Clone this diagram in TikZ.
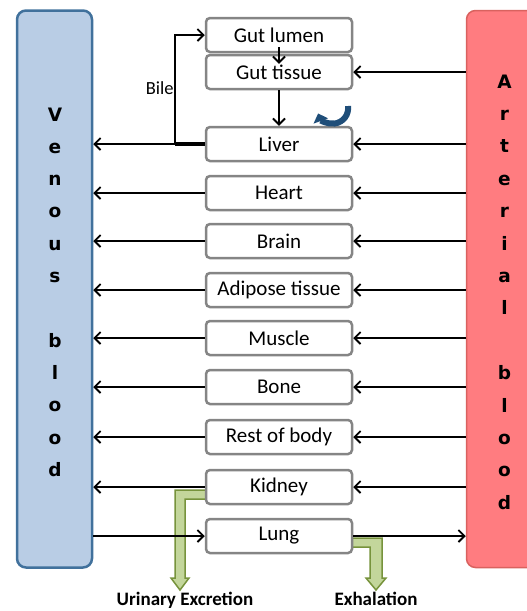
\documentclass[tikz,border=0pt]{standalone}
\usepackage{fontspec}
\setmainfont{Carlito}
\newfontfamily\poolfont{DejaVu Sans}
\usetikzlibrary{arrows.meta,positioning,calc}

\definecolor{venfill}{HTML}{B9CDE5}
\definecolor{venline}{HTML}{41719C}
\definecolor{artfill}{HTML}{FF7C80}
\definecolor{artline}{HTML}{D9625F}
\definecolor{boxgray}{HTML}{858585}
\definecolor{grfill}{HTML}{C3D69B}
\definecolor{grline}{HTML}{77933C}
\definecolor{arcblue}{HTML}{1F4E79}

\begin{document}
\begin{tikzpicture}[x=1pt,y=1pt,
    organ/.style={draw=boxgray,line width=2.5pt,rounded corners=4pt,fill=white,
      minimum width=146pt,minimum height=34pt,inner sep=0pt,font=\fontsize{21}{24}\selectfont},
    flow/.style={line width=1.8pt,-{Straight Barb[length=6pt,width=12pt]}},
    letter/.style={anchor=base,font=\poolfont\fontsize{18.5}{20}\selectfont\bfseries},
    excr/.style={fill=grfill,draw=grline,line width=1.5pt}]
    \clip (0,0) rectangle (527,-611);

    % blood pools
    \node[draw=venline,fill=venfill,line width=2.5pt,rounded corners=9pt,
      minimum width=75pt,minimum height=557pt] at (54.5,-289) (ven) {};
    \node[draw=artline,fill=artfill,line width=1.5pt,rounded corners=9pt,
      minimum width=75pt,minimum height=557pt] at (504,-289) (art) {};
    \foreach \c/\k in {V/0,e/1,n/2,o/3,u/4,s/5,b/7,l/8,o/9,o/10,d/11} {
      \node[letter] at (55,{-121-32.3*\k}) (v\k) {\c};
    }
    \foreach \c/\k in {A/0,r/1,t/2,e/3,r/4,i/5,a/6,l/7,b/9,l/10,o/11,o/12,d/13} {
      \node[letter] at (504.5,{-88-32.4*\k}) (a\k) {\c};
    }

    % excretion
    \filldraw[excr] (206,-490) -- (175,-490) -- (175,-578) -- (171,-578) -- (180,-590)
      -- (189,-578) -- (185,-578) -- (185,-499) -- (206,-499) -- cycle;
    \filldraw[excr] (352,-538) -- (382,-538) -- (382,-578) -- (386,-578) -- (376,-590)
      -- (366,-578) -- (370,-578) -- (370,-547) -- (352,-547) -- cycle;

    \foreach \n/\t/\y in {lumen/Gut lumen/35,tissue/Gut tissue/72,liver/Liver/144,
        heart/Heart/193,brain/Brain/241,adipose/Adipose tissue/290,muscle/Muscle/338,
        bone/Bone/387,rest/Rest of body/437,kidney/Kidney/487,lung/Lung/536} {
      \node[organ] at (279,-\y) (\n) {\t};
    }

    \foreach \n in {tissue,liver,heart,brain,adipose,muscle,bone,rest,kidney} {
      \draw[flow] (art.west |- \n) -- (\n.east);
    }
    \foreach \n in {liver,heart,brain,adipose,muscle,bone,rest,kidney} {
      \draw[flow] (\n.west) -- (ven.east |- \n);
    }
    \draw[flow] (ven.east |- lung) -- (lung.west);
    \draw[flow] (lung.east) -- (art.west |- lung);

    % gut and bile
    \draw[flow] ($(lumen.south)+(0,6)$) -- ($(tissue.north)+(0,-10)$);
    \draw[flow] (tissue.south) -- (liver.north);
    \draw[line width=4pt] (liver.west) -- ++(-30,0) coordinate (bile);
    \draw[flow] (bile) |- (lumen.west);
    \node[anchor=east,inner sep=1pt,font=\fontsize{18.5}{20}\selectfont] at ($(bile)+(0,56)$) (bilelbl) {Bile};
    \draw[line width=6pt,draw=arcblue,-{Triangle[length=8pt,width=15pt]}]
      (348,-106) arc[start angle=8,end angle=-160,radius=15.5];

    \node[anchor=base,font=\fontsize{19}{22}\selectfont\bfseries] at (185,-605.5) (urin) {Urinary Excretion};
    \node[anchor=base,font=\fontsize{19}{22}\selectfont\bfseries] at (376,-605.5) (exh) {Exhalation};
\end{tikzpicture}
\end{document}
